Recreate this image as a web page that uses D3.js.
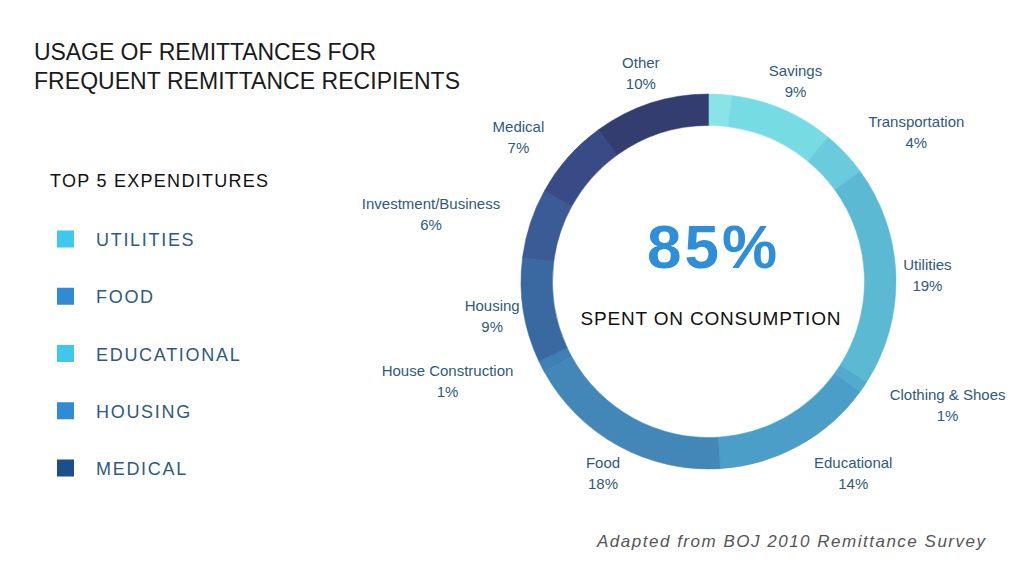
<!DOCTYPE html>
<html>
<head>
<meta charset="utf-8">
<script src="https://cdn.jsdelivr.net/npm/d3@7"></script>
<style>
  body { margin: 0; background: #fff; }
  svg { display: block; }
</style>
</head>
<body>
<div id="chart"></div>
<script>
const w = 1024;
const h = 576;

// ring slices, clockwise from 12 o'clock (first slice has no label)
const categories = ['', 'Savings', 'Transportation', 'Utilities', 'Clothing & Shoes', 'Educational',
    'Food', 'House Construction', 'Housing', 'Investment/Business', 'Medical', 'Other'];
const shares = [2, 9, 4, 19, 1, 14, 18, 1, 9, 6, 7, 10];
const sliceColors = ['#88e4e7', '#76dbe2', '#69cbdc', '#5bb9d4', '#52abcc', '#4a9ec7',
    '#4387b8', '#3e7fb5', '#3a69a1', '#3a5b95', '#384b86', '#333d6f'];

const legendItems = ['UTILITIES', 'FOOD', 'EDUCATIONAL', 'HOUSING', 'MEDICAL'];
const legendColors = ['#3fc7ec', '#2f8cd3', '#3fc7ec', '#2f8cd3', '#1b4f8c'];

const titleLines = ['USAGE OF REMITTANCES FOR', 'FREQUENT REMITTANCE RECIPIENTS'];
const legendTitle = 'TOP 5 EXPENDITURES';
const bigNumber = '85%';
const bigCaption = 'SPENT ON CONSUMPTION';
const source = 'Adapted from BOJ 2010 Remittance Survey';

const cx = 708.5;
const cy = 281.5;
const outerR = 187.5;
const innerR = 156;
const labelR = 219;
const labelColor = '#2f5a80';
const font = 'Liberation Sans, Arial, sans-serif';

const svg = d3.select('#chart')
    .append('svg')
    .attr('width', w)
    .attr('height', h);

// title
svg.append('g')
    .selectAll('text')
    .data(titleLines)
    .enter()
    .append('text')
    .attr('x', 34)
    .attr('y', (d, i) => 60 + i * 29)
    .attr('font-family', font)
    .attr('font-size', 23)
    .attr('fill', '#1a1a1a')
    .attr('textLength', (d, i) => i === 0 ? 342 : 426)
    .attr('lengthAdjust', 'spacing')
    .text(d => d);

// legend
svg.append('text')
    .attr('x', 50)
    .attr('y', 187)
    .attr('font-family', font)
    .attr('font-size', 18)
    .attr('fill', '#111')
    .attr('textLength', 218)
    .attr('lengthAdjust', 'spacing')
    .text(legendTitle);

const legendY = d3.scalePoint()
    .domain(legendItems)
    .range([239, 468]);

const legend = svg.append('g')
    .selectAll('g')
    .data(legendItems)
    .enter()
    .append('g')
    .attr('transform', d => `translate(0, ${legendY(d)})`);

legend.append('rect')
    .attr('x', 57)
    .attr('y', -8.5)
    .attr('width', 17)
    .attr('height', 17)
    .attr('fill', (d, i) => legendColors[i]);

legend.append('text')
    .attr('x', 96)
    .attr('y', 7)
    .attr('font-family', font)
    .attr('font-size', 18)
    .attr('letter-spacing', 1.7)
    .attr('fill', '#2d5a80')
    .text(d => d);

// donut
const data = categories.map((c, i) => ({ name: c, value: shares[i], color: sliceColors[i] }));

const pie = d3.pie()
    .sort(null)
    .value(d => d.value);

const arc = d3.arc()
    .innerRadius(innerR)
    .outerRadius(outerR);

const ring = svg.append('g')
    .attr('transform', `translate(${cx}, ${cy})`);

const arcs = pie(data);

ring.selectAll('path')
    .data(arcs)
    .enter()
    .append('path')
    .attr('d', arc)
    .attr('fill', d => d.data.color)
    .attr('stroke', d => d.data.color)
    .attr('stroke-width', 0.5);

// slice labels: centred on a point at labelR along the mid angle,
// pushed sideways by half their width when the box would touch the ring
const labelArc = d3.arc()
    .innerRadius(labelR)
    .outerRadius(labelR);

const labels = ring.selectAll('g.label')
    .data(arcs.filter(d => d.data.name !== ''))
    .enter()
    .append('g')
    .attr('class', 'label');

labels.append('text')
    .attr('class', 'name')
    .attr('text-anchor', 'middle')
    .attr('y', -5)
    .attr('font-family', font)
    .attr('font-size', 15)
    .attr('fill', labelColor)
    .text(d => d.data.name);

labels.append('text')
    .attr('text-anchor', 'middle')
    .attr('y', 16)
    .attr('font-family', font)
    .attr('font-size', 15)
    .attr('fill', labelColor)
    .text(d => d.data.value + '%');

labels.attr('transform', function(d) {
    const [x, y] = labelArc.centroid(d);
    const hw = this.querySelector('.name').getComputedTextLength() / 2;
    const hh = 17;
    const dx = Math.max(Math.abs(x) - hw, 0);
    const dy = Math.max(Math.abs(y) - hh, 0);
    const touches = Math.sqrt(dx * dx + dy * dy) < outerR + 1.5;
    const shift = touches ? Math.sign(x) * hw : 0;
    return `translate(${x + shift}, ${y})`;
});

// centre text
ring.append('text')
    .attr('x', 5)
    .attr('y', -14)
    .attr('text-anchor', 'middle')
    .attr('font-family', font)
    .attr('font-weight', 'bold')
    .attr('font-size', 62)
    .attr('letter-spacing', 3)
    .attr('fill', '#2e8fd8')
    .text(bigNumber);

ring.append('text')
    .attr('x', 2)
    .attr('y', 43.5)
    .attr('text-anchor', 'middle')
    .attr('font-family', font)
    .attr('font-size', 19)
    .attr('fill', '#111')
    .attr('textLength', 260)
    .attr('lengthAdjust', 'spacing')
    .text(bigCaption);

// source
svg.append('text')
    .attr('x', 597)
    .attr('y', 547)
    .attr('font-family', font)
    .attr('font-style', 'italic')
    .attr('font-size', 17)
    .attr('fill', '#555')
    .attr('textLength', 388)
    .attr('lengthAdjust', 'spacing')
    .text(source);
</script>
</body>
</html>
